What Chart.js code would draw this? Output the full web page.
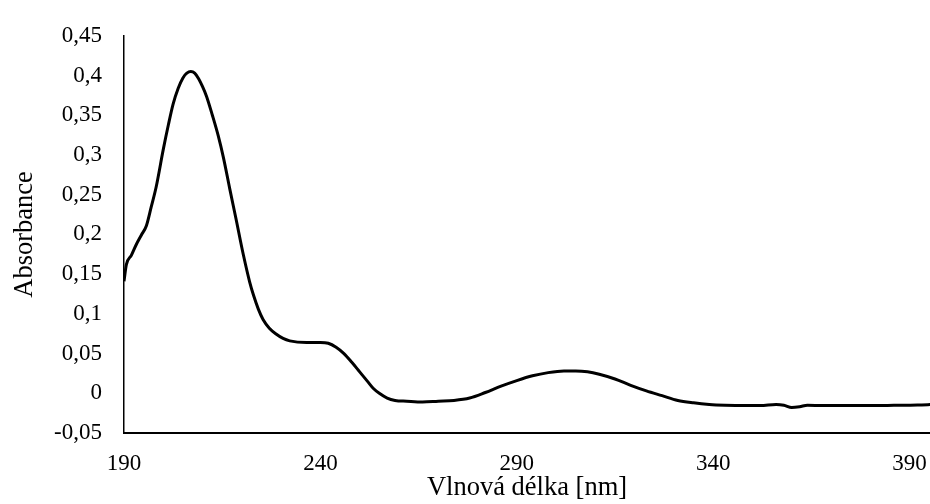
<!DOCTYPE html>
<html>
<head>
<meta charset="utf-8">
<script src="https://cdn.jsdelivr.net/npm/chart.js@4"></script>
<style>
  html, body { margin: 0; padding: 0; background: #fff; }
  #wrap { width: 930px; height: 504px; position: relative; }
</style>
</head>
<body>
<div id="wrap"><canvas id="c" width="930" height="504"></canvas></div>
<script>
// UV-Vis absorption spectrum
const wavelengths = [
  190, 190.6, 191.9, 193.1, 194.4, 195.7, 196.9, 198.2, 200, 201.3,
  202.5, 203.8, 205, 206, 207, 208, 209, 210, 211, 212.5,
  214, 215.3, 216.9, 218.5, 220.4, 222, 223, 224.2, 225.4, 227,
  228.9, 230.5, 232.2, 236.5, 240, 242, 244, 246, 248, 250,
  252, 253.5, 255, 257, 259, 262, 266, 270, 274, 278,
  282, 286, 290, 294, 298, 302, 305, 308, 311, 315,
  319, 323, 327, 331, 335, 339, 343, 348, 352, 356,
  358, 360, 362, 364, 368, 374, 380, 386, 392, 396
];
const absorbance = [
  0.141, 0.162, 0.174, 0.187, 0.199, 0.211, 0.234, 0.260, 0.307, 0.338,
  0.364, 0.384, 0.397, 0.403, 0.405, 0.403, 0.396, 0.386, 0.374, 0.350,
  0.324, 0.297, 0.258, 0.220, 0.174, 0.140, 0.123, 0.106, 0.093, 0.082,
  0.074, 0.069, 0.066, 0.064, 0.064, 0.063, 0.058, 0.050, 0.039, 0.027,
  0.015, 0.006, 0.000, -0.006, -0.009, -0.010, -0.011, -0.010, -0.009, -0.006,
  0.001, 0.009, 0.016, 0.022, 0.026, 0.028, 0.028, 0.027, 0.024, 0.018,
  0.010, 0.003, -0.003, -0.009, -0.012, -0.014, -0.015, -0.0155, -0.0155, -0.014,
  -0.015, -0.018, -0.017, -0.015, -0.0155, -0.0155, -0.0155, -0.0152, -0.0148, -0.014
];
const xTicks = [190, 240, 290, 340, 390];
const yMin = -0.05, yMax = 0.45, yStep = 0.05;

const points = wavelengths.map((w, i) => ({ x: w, y: absorbance[i] }));
const serif = "'Liberation Serif', 'Times New Roman', serif";
const tickFont = { family: serif, size: 23 };
const titleFont = { family: serif, size: 26.5 };

new Chart(document.getElementById('c'), {
  type: 'line',
  data: {
    datasets: [{
      data: points,
      borderColor: '#000',
      borderWidth: 3,
      pointRadius: 0,
      cubicInterpolationMode: 'monotone',
      fill: false
    }]
  },
  options: {
    responsive: false,
    animation: false,
    layout: { padding: { top: 25, right: 0, left: 0, bottom: 0 } },
    plugins: { legend: { display: false }, tooltip: { enabled: false } },
    scales: {
      x: {
        type: 'linear',
        min: 190,
        max: 395.2,
        afterBuildTicks: s => { s.ticks = xTicks.map(v => ({ value: v })); },
        afterFit: s => { s.height = 71; s.paddingLeft = 0; s.paddingRight = 0; },
        grid: { display: false, drawTicks: false },
        border: { color: '#000', width: 2 },
        ticks: { color: '#000', font: tickFont, padding: 17, maxRotation: 0, autoSkip: false },
        title: { display: true, text: 'Vlnová délka [nm]', color: '#000', font: titleFont, padding: { top: 0, bottom: 0 } }
      },
      y: {
        min: yMin,
        max: yMax,
        afterFit: s => { s.width = 124; },
        grid: { display: false, drawTicks: false },
        border: { color: '#000', width: 1.5 },
        ticks: {
          stepSize: yStep,
          color: '#000',
          font: tickFont,
          padding: 22,
          callback: v => String(Math.round(v * 100) / 100).replace('.', ',')
        },
        title: { display: true, text: 'Absorbance', color: '#000', font: titleFont, padding: { top: 9, bottom: 0 } }
      }
    }
  }
});
</script>
</body>
</html>
